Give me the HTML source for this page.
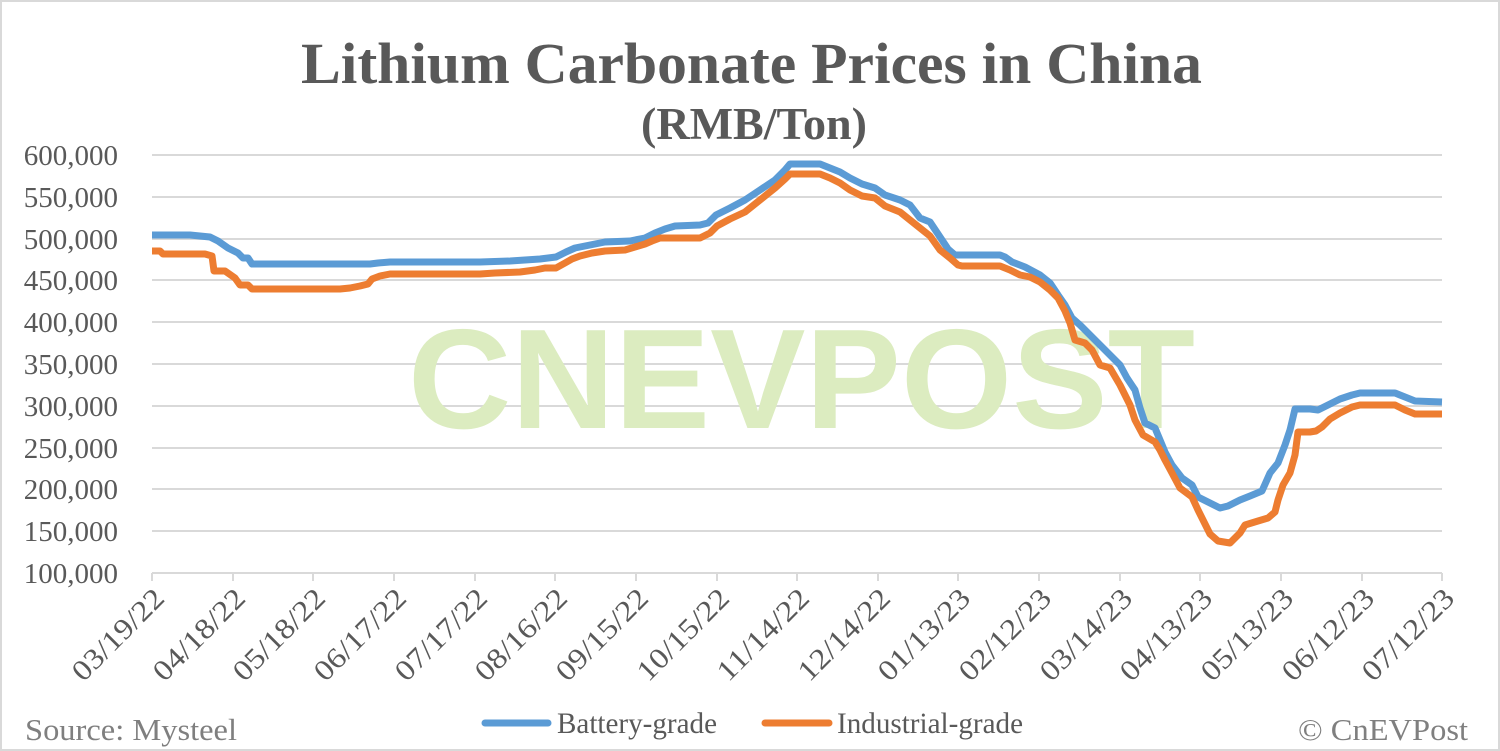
<!DOCTYPE html>
<html><head><meta charset="utf-8"><style>
body{margin:0;background:#fff}
svg{display:block}
text{font-family:"Liberation Serif",serif;fill:#595959}
</style></head><body>
<svg width="1500" height="751" viewBox="0 0 1500 751">
<rect x="1" y="1" width="1498" height="749" fill="#fff" stroke="#d9d9d9" stroke-width="2"/>
<text x="301" y="83" font-size="58" font-weight="bold" textLength="901" lengthAdjust="spacingAndGlyphs">Lithium Carbonate Prices in China</text>
<text x="641" y="139" font-size="45" font-weight="bold" textLength="226" lengthAdjust="spacingAndGlyphs">(RMB/Ton)</text>
<g stroke="#d9d9d9" stroke-width="2">
<line x1="152" x2="1442" y1="155" y2="155"/><line x1="152" x2="1442" y1="197" y2="197"/>
<line x1="152" x2="1442" y1="239" y2="239"/><line x1="152" x2="1442" y1="280" y2="280"/>
<line x1="152" x2="1442" y1="322" y2="322"/><line x1="152" x2="1442" y1="364" y2="364"/>
<line x1="152" x2="1442" y1="406" y2="406"/><line x1="152" x2="1442" y1="448" y2="448"/>
<line x1="152" x2="1442" y1="489" y2="489"/><line x1="152" x2="1442" y1="531" y2="531"/>
<line x1="152" x2="1442" y1="573" y2="573"/>
</g>
<g stroke="#d9d9d9" stroke-width="2">
<line x1="152" x2="152" y1="573" y2="581"/><line x1="233" x2="233" y1="573" y2="581"/><line x1="313" x2="313" y1="573" y2="581"/><line x1="394" x2="394" y1="573" y2="581"/><line x1="475" x2="475" y1="573" y2="581"/><line x1="555" x2="555" y1="573" y2="581"/><line x1="636" x2="636" y1="573" y2="581"/><line x1="717" x2="717" y1="573" y2="581"/><line x1="797" x2="797" y1="573" y2="581"/><line x1="878" x2="878" y1="573" y2="581"/><line x1="958" x2="958" y1="573" y2="581"/><line x1="1039" x2="1039" y1="573" y2="581"/><line x1="1120" x2="1120" y1="573" y2="581"/><line x1="1200" x2="1200" y1="573" y2="581"/><line x1="1281" x2="1281" y1="573" y2="581"/><line x1="1362" x2="1362" y1="573" y2="581"/><line x1="1442" x2="1442" y1="573" y2="581"/>
</g>
<g font-size="29" text-anchor="end">
<text x="118" y="165">600,000</text><text x="118" y="207">550,000</text><text x="118" y="249">500,000</text><text x="118" y="290">450,000</text><text x="118" y="332">400,000</text><text x="118" y="374">350,000</text><text x="118" y="416">300,000</text><text x="118" y="458">250,000</text><text x="118" y="499">200,000</text><text x="118" y="541">150,000</text><text x="118" y="583">100,000</text>
</g>
<g font-size="29" text-anchor="end">
<text transform="translate(166,600) rotate(-45)" textLength="117" lengthAdjust="spacingAndGlyphs">03/19/22</text>
<text transform="translate(247,600) rotate(-45)" textLength="117" lengthAdjust="spacingAndGlyphs">04/18/22</text>
<text transform="translate(327,600) rotate(-45)" textLength="117" lengthAdjust="spacingAndGlyphs">05/18/22</text>
<text transform="translate(408,600) rotate(-45)" textLength="117" lengthAdjust="spacingAndGlyphs">06/17/22</text>
<text transform="translate(489,600) rotate(-45)" textLength="117" lengthAdjust="spacingAndGlyphs">07/17/22</text>
<text transform="translate(569,600) rotate(-45)" textLength="117" lengthAdjust="spacingAndGlyphs">08/16/22</text>
<text transform="translate(650,600) rotate(-45)" textLength="117" lengthAdjust="spacingAndGlyphs">09/15/22</text>
<text transform="translate(731,600) rotate(-45)" textLength="117" lengthAdjust="spacingAndGlyphs">10/15/22</text>
<text transform="translate(811,600) rotate(-45)" textLength="117" lengthAdjust="spacingAndGlyphs">11/14/22</text>
<text transform="translate(892,600) rotate(-45)" textLength="117" lengthAdjust="spacingAndGlyphs">12/14/22</text>
<text transform="translate(972,600) rotate(-45)" textLength="117" lengthAdjust="spacingAndGlyphs">01/13/23</text>
<text transform="translate(1053,600) rotate(-45)" textLength="117" lengthAdjust="spacingAndGlyphs">02/12/23</text>
<text transform="translate(1134,600) rotate(-45)" textLength="117" lengthAdjust="spacingAndGlyphs">03/14/23</text>
<text transform="translate(1214,600) rotate(-45)" textLength="117" lengthAdjust="spacingAndGlyphs">04/13/23</text>
<text transform="translate(1295,600) rotate(-45)" textLength="117" lengthAdjust="spacingAndGlyphs">05/13/23</text>
<text transform="translate(1376,600) rotate(-45)" textLength="117" lengthAdjust="spacingAndGlyphs">06/12/23</text>
<text transform="translate(1456,600) rotate(-45)" textLength="117" lengthAdjust="spacingAndGlyphs">07/12/23</text>
</g>
<text x="408" y="428" font-size="142" font-weight="bold" textLength="787" lengthAdjust="spacingAndGlyphs" style="font-family:'Liberation Sans',sans-serif;fill:#dcecc0">CNEVPOST</text>
<polyline fill="none" stroke="#5b9bd5" stroke-width="7" stroke-linejoin="round" points="152,235 190,235 210,237 218,241 228,248 238,253 243,258 248,258 252,264 300,264 370,264 378,263 390,262 480,262 510,261 540,259 556,257 566,252 575,248 590,245 605,242 630,241 645,238 655,233 665,229 675,226 700,225 708,223 716,215 730,208 745,200 760,190 775,180 785,170 790,164 820,164 830,168 840,172 850,178 862,184 875,188 885,195 900,200 910,205 920,218 930,222 938,234 948,249 955,255 960,255 1000,255 1005,257 1012,262 1025,267 1040,275 1050,283 1058,295 1065,305 1072,318 1080,325 1090,335 1100,345 1110,355 1120,365 1127,378 1135,390 1140,408 1145,423 1155,428 1160,440 1165,452 1172,465 1182,478 1192,485 1198,497 1210,503 1220,508 1228,506 1240,500 1250,496 1262,491 1270,473 1278,463 1285,445 1290,430 1295,409 1310,409 1318,410 1330,404 1340,399 1352,395 1360,393 1395,393 1405,397 1415,401 1442,402"/>
<polyline fill="none" stroke="#ed7d31" stroke-width="7" stroke-linejoin="round" points="152,251 160,251 163,254 205,254 212,256 214,271 225,271 235,278 240,285 248,285 252,289 300,289 340,289 350,288 360,286 368,284 372,279 380,276 390,274 480,274 495,273 520,272 535,270 545,268 556,268 565,263 572,259 580,256 592,253 605,251 625,250 635,247 645,244 652,241 660,238 700,238 710,233 717,226 730,219 745,212 760,200 775,188 785,179 790,174 820,174 830,178 840,183 850,190 862,196 875,198 885,206 900,212 910,220 920,228 930,236 940,250 950,258 958,265 962,266 1000,266 1010,270 1020,275 1030,277 1040,282 1050,290 1058,298 1065,311 1070,323 1075,340 1085,343 1092,350 1100,365 1110,368 1120,385 1130,405 1135,420 1143,435 1155,442 1160,450 1165,460 1172,473 1180,488 1192,497 1198,510 1204,522 1210,534 1218,541 1230,543 1240,533 1245,525 1258,521 1268,518 1275,512 1278,500 1283,485 1290,473 1295,455 1298,432 1310,432 1316,431 1322,427 1330,419 1340,413 1352,407 1360,405 1395,405 1405,410 1415,414 1442,414"/>
<line x1="485" x2="548" y1="723" y2="723" stroke="#5b9bd5" stroke-width="7" stroke-linecap="round"/>
<text x="557" y="733" font-size="30" textLength="160" lengthAdjust="spacingAndGlyphs">Battery-grade</text>
<line x1="765" x2="829" y1="723" y2="723" stroke="#ed7d31" stroke-width="7" stroke-linecap="round"/>
<text x="837" y="733" font-size="30" textLength="186" lengthAdjust="spacingAndGlyphs">Industrial-grade</text>
<text x="25" y="740" font-size="31" textLength="212" lengthAdjust="spacingAndGlyphs" style="fill:#7f7f7f">Source: Mysteel</text>
<text x="1298" y="740" font-size="31" textLength="170" lengthAdjust="spacingAndGlyphs" style="fill:#7f7f7f">© CnEVPost</text>
</svg>
</body></html>
